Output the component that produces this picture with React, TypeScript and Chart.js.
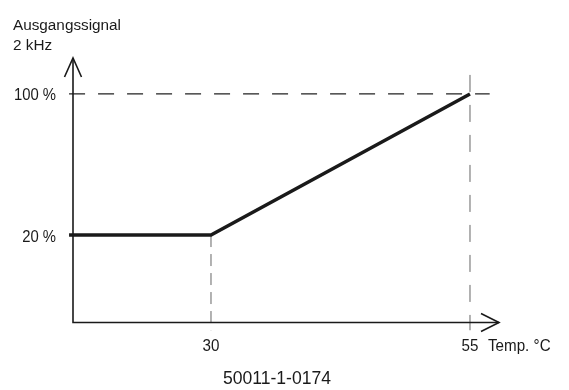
import React, { useEffect, useRef } from "react";
import { Chart, registerables } from "chart.js";

Chart.register(...registerables);

// Data
const tempValues = [16.3, 30, 55];
const signalValues = [20, 20, 100];
const xTicks = [30, 55];
const xTickLabels = ["30", "55"];
const yTicks = [20, 100];
const yTickLabels = ["20 %", "100 %"];
const yAxisTitle = ["Ausgangssignal", "2 kHz"];
const xAxisTitle = "Temp. °C";
const footer = "50011-1-0174";

const X_MIN = 16.68;
const X_MAX = 57.8;
const Y_MIN = -29.6;
const Y_MAX = 120.4;

const FONT = "'Liberation Sans', Arial, sans-serif";

function drawText(
  ctx: CanvasRenderingContext2D,
  text: string,
  x: number,
  y: number,
  size: number,
  sx: number,
  align: CanvasTextAlign
) {
  ctx.save();
  ctx.font = `${size}px ${FONT}`;
  ctx.textAlign = align;
  ctx.textBaseline = "alphabetic";
  ctx.translate(x, y);
  ctx.scale(sx, 1);
  ctx.fillText(text, 0, 0);
  ctx.restore();
}

export default function App() {
  const ref = useRef<HTMLCanvasElement | null>(null);

  useEffect(() => {
    if (!ref.current) return;
    const overlay = {
      id: "overlay",
      afterDraw(chart: any) {
        const ctx = chart.ctx as CanvasRenderingContext2D;
        const xs = chart.scales.x;
        const ys = chart.scales.y;
        const x0 = xs.getPixelForValue(X_MIN);
        const x1 = xs.getPixelForValue(X_MAX);
        const y0 = ys.getPixelForValue(Y_MIN);
        const y1 = ys.getPixelForValue(Y_MAX);
        ctx.save();
        ctx.strokeStyle = "#1a1a1a";
        ctx.lineWidth = 1.6;
        ctx.setLineDash([]);
        ctx.beginPath();
        ctx.moveTo(x0, y1);
        ctx.lineTo(x0, y0);
        ctx.lineTo(x1, y0);
        ctx.stroke();
        ctx.beginPath();
        ctx.moveTo(x0 - 8.5, y1 + 19);
        ctx.lineTo(x0, y1);
        ctx.lineTo(x0 + 8.5, y1 + 19);
        ctx.stroke();
        ctx.beginPath();
        ctx.moveTo(x1 - 18, y0 - 9);
        ctx.lineTo(x1, y0);
        ctx.lineTo(x1 - 18, y0 + 9);
        ctx.stroke();

        ctx.fillStyle = "#1a1a1a";
        yTicks.forEach((v, i) => {
          drawText(ctx, yTickLabels[i], x0 - 17, ys.getPixelForValue(v) + 6.5, 16.5, 0.9, "right");
        });
        xTicks.forEach((v, i) => {
          drawText(ctx, xTickLabels[i], xs.getPixelForValue(v), y0 + 28.3, 16.5, 0.92, "center");
        });
        drawText(ctx, xAxisTitle, x1 - 11, y0 + 28.3, 16.5, 0.92, "left");
        drawText(ctx, yAxisTitle[0], 13, 29.5, 15.3, 1.0, "left");
        drawText(ctx, yAxisTitle[1], 13, 50, 15.3, 1.0, "left");
        drawText(ctx, footer, 277, 383.5, 18.5, 0.95, "center");
        ctx.restore();
      },
    };

    const chart = new Chart(ref.current, {
      type: "line",
      data: {
        datasets: [
          {
            data: tempValues.map((t, i) => ({ x: t, y: signalValues[i] })),
            borderColor: "#1a1a1a",
            borderWidth: 3.5,
            pointRadius: 0,
            fill: false,
            tension: 0,
            clip: false as any,
            order: 0,
          },
          {
            data: [
              { x: 16.3, y: 100 },
              { x: 56.9, y: 100 },
            ],
            borderColor: "#222",
            borderWidth: 1.2,
            borderDash: [16, 13],
            pointRadius: 0,
            clip: false as any,
            order: 1,
          },
          {
            data: [
              { x: 55, y: 110.8 },
              { x: 55, y: -34 },
            ],
            borderColor: "#666",
            borderWidth: 1,
            borderDash: [17, 13],
            pointRadius: 0,
            clip: false as any,
            order: 1,
          },
          {
            data: [
              { x: 30, y: 20 },
              { x: 30, y: -34 },
            ],
            borderColor: "#666",
            borderWidth: 1,
            borderDash: [12, 7],
            pointRadius: 0,
            clip: false as any,
            order: 1,
          },
        ],
      },
      options: {
        responsive: false,
        animation: false,
        devicePixelRatio: 1,
        layout: { padding: { left: 73, right: 70, top: 58, bottom: 67.5 } },
        plugins: { legend: { display: false }, tooltip: { enabled: false } },
        scales: {
          x: { type: "linear", min: X_MIN, max: X_MAX, display: false },
          y: { type: "linear", min: Y_MIN, max: Y_MAX, display: false },
        },
      },
      plugins: [overlay],
    });
    return () => chart.destroy();
  }, []);

  return (
    <div style={{ position: "absolute", left: 0, top: 0, width: 569, height: 390, background: "#fff" }}>
      <canvas ref={ref} width={569} height={390} />
    </div>
  );
}
